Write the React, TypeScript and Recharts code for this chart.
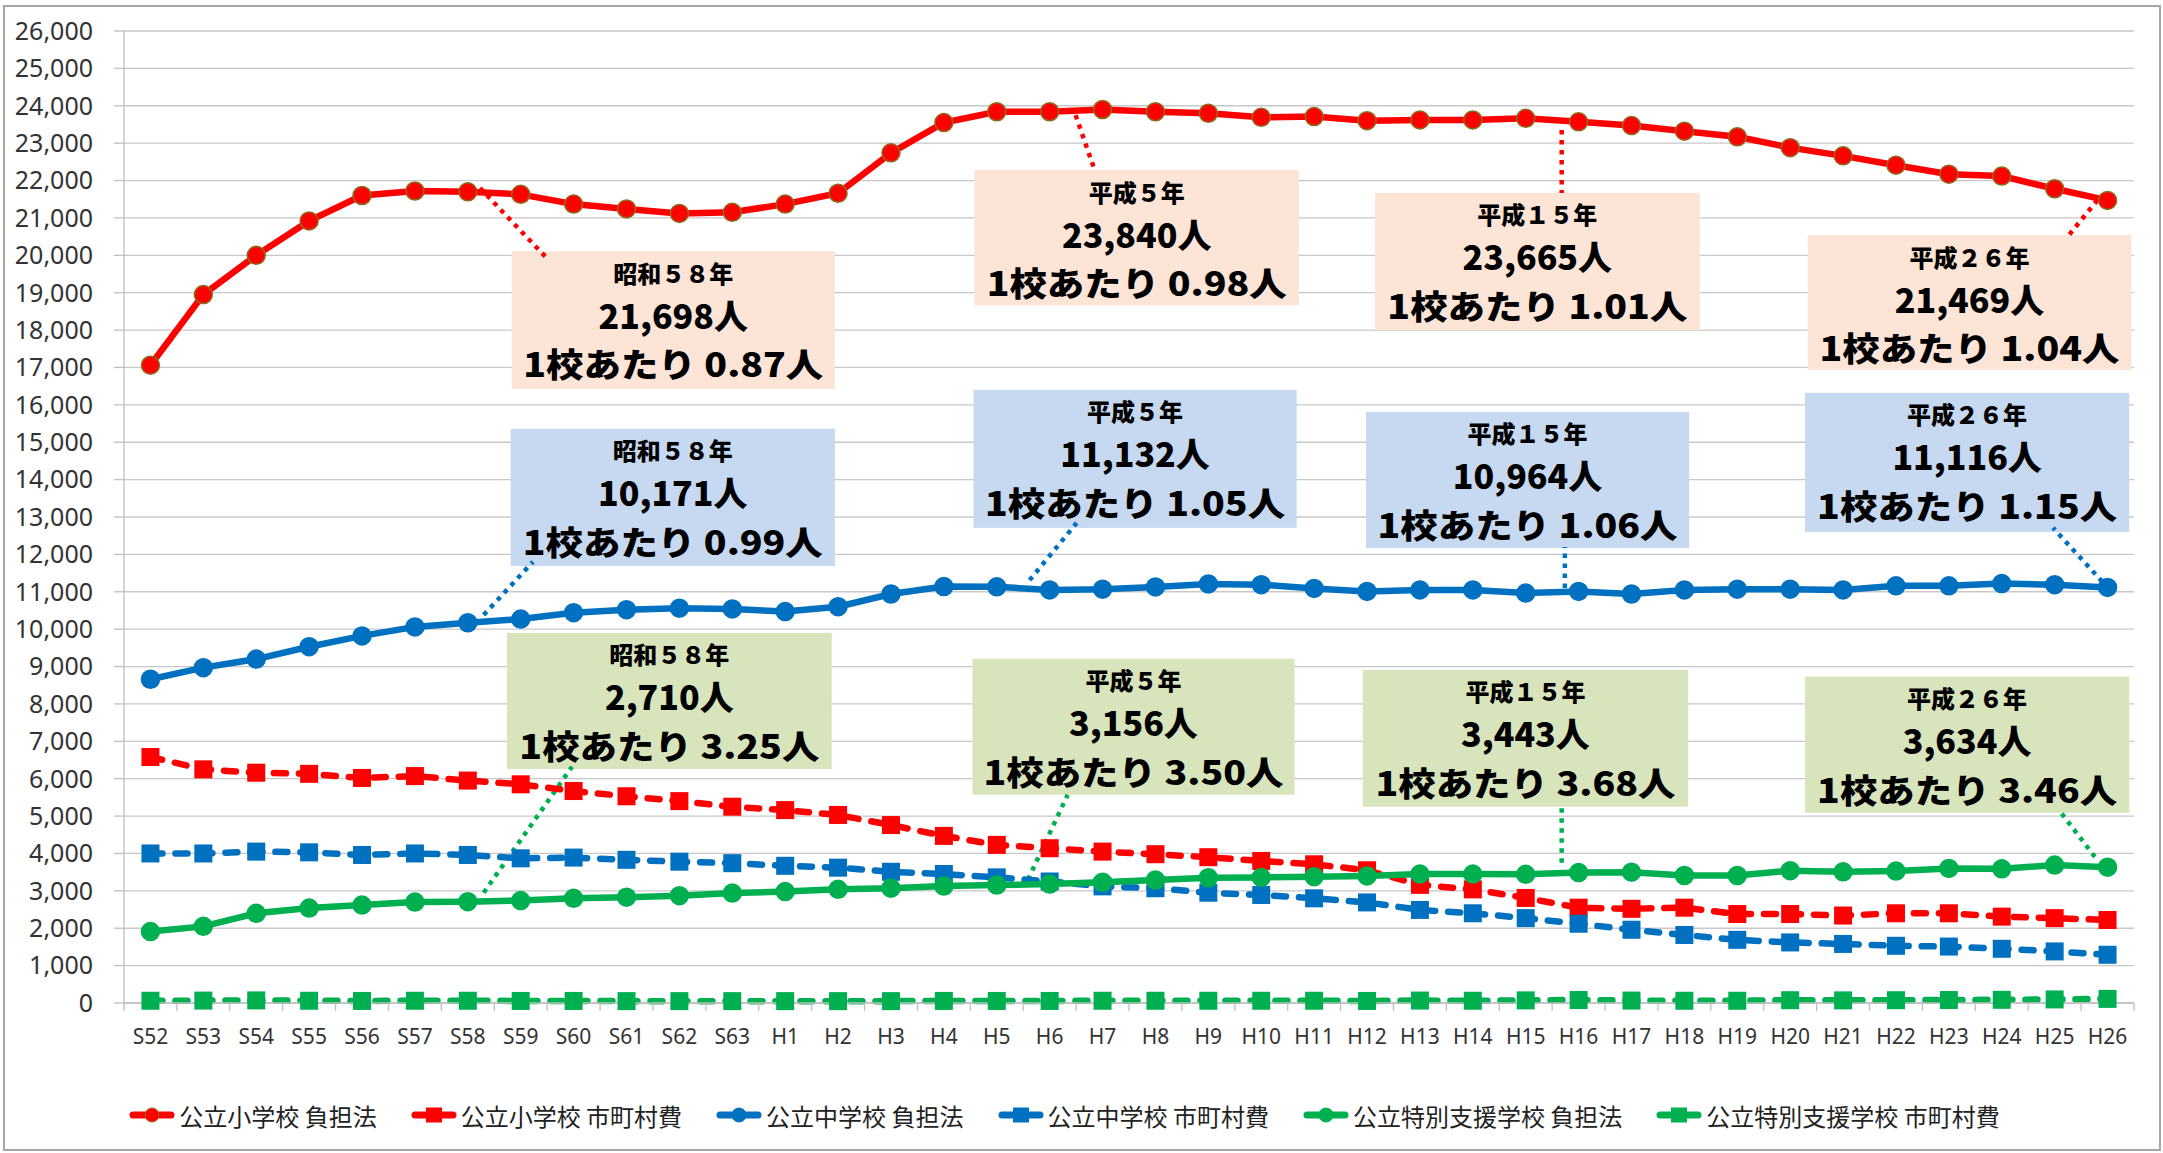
import { LineChart, Line, XAxis, YAxis, CartesianGrid, ReferenceArea, ReferenceLine } from 'recharts'

const categories = [
  'S52', 'S53', 'S54', 'S55', 'S56', 'S57', 'S58', 'S59', 'S60', 'S61', 'S62', 'S63',
  'H1', 'H2', 'H3', 'H4', 'H5', 'H6', 'H7', 'H8', 'H9', 'H10', 'H11', 'H12', 'H13',
  'H14', 'H15', 'H16', 'H17', 'H18', 'H19', 'H20', 'H21', 'H22', 'H23', 'H24', 'H25', 'H26',
]

// 公立小学校 負担法
const elemFutan = [
  17060, 18950, 20000, 20920, 21600, 21720, 21698, 21630, 21370, 21240, 21120, 21150,
  21370, 21660, 22740, 23550, 23840, 23840, 23900, 23840, 23800, 23690, 23710, 23600, 23620,
  23620, 23665, 23570, 23470, 23320, 23170, 22880, 22660, 22410, 22170, 22120, 21780, 21469,
]
// 公立小学校 市町村費
const elemCity = [
  6580, 6250, 6160, 6130, 6020, 6070, 5950, 5850, 5670, 5530, 5400, 5250,
  5160, 5030, 4760, 4470, 4230, 4140, 4050, 3980, 3900, 3800, 3710, 3550, 3160,
  3040, 2810, 2550, 2520, 2550, 2380, 2380, 2340, 2400, 2400, 2310, 2270, 2220,
]
// 公立中学校 負担法
const midFutan = [
  8660, 8970, 9200, 9530, 9820, 10060, 10171, 10270, 10440, 10520, 10560, 10540,
  10470, 10600, 10940, 11140, 11132, 11050, 11070, 11130, 11210, 11190, 11090, 11010, 11050,
  11050, 10964, 11010, 10940, 11050, 11070, 11070, 11050, 11160, 11160, 11220, 11190, 11116,
]
// 公立中学校 市町村費
const midCity = [
  4000, 4000, 4050, 4030, 3960, 4000, 3960, 3870, 3890, 3830, 3780, 3740,
  3670, 3620, 3510, 3450, 3360, 3250, 3120, 3070, 2950, 2890, 2800, 2690, 2490,
  2400, 2270, 2120, 1960, 1820, 1690, 1620, 1580, 1530, 1510, 1450, 1380, 1290,
]
// 公立特別支援学校 負担法
const specFutan = [
  1910, 2050, 2400, 2540, 2620, 2700, 2710, 2740, 2800, 2830, 2870, 2940,
  2980, 3040, 3070, 3130, 3156, 3180, 3230, 3290, 3350, 3360, 3380, 3400, 3450,
  3450, 3443, 3490, 3500, 3410, 3410, 3540, 3510, 3530, 3600, 3590, 3690, 3634,
]
// 公立特別支援学校 市町村費
const specCity = [
  60, 65, 70, 60, 55, 60, 60, 55, 55, 50, 50, 50,
  50, 50, 50, 55, 55, 55, 60, 60, 60, 60, 60, 55, 65,
  60, 70, 80, 65, 60, 60, 75, 70, 75, 80, 85, 95, 110,
]

const yTicks = [
  0, 1000, 2000, 3000, 4000, 5000, 6000, 7000, 8000, 9000, 10000, 11000, 12000, 13000,
  14000, 15000, 16000, 17000, 18000, 19000, 20000, 21000, 22000, 23000, 24000, 25000, 26000,
]

const RED = '#FF0000'
const BLUE = '#0070C0'
const GREEN = '#00B050'
const ORANGE_BOX = '#FCE4D6'
const BLUE_BOX = '#C6D9F0'
const GREEN_BOX = '#D8E4BC'

const series = [
  { key: 'elemFutan', name: '公立小学校 負担法', color: RED, dashed: false, values: elemFutan },
  { key: 'elemCity', name: '公立小学校 市町村費', color: RED, dashed: true, values: elemCity },
  { key: 'midFutan', name: '公立中学校 負担法', color: BLUE, dashed: false, values: midFutan },
  { key: 'midCity', name: '公立中学校 市町村費', color: BLUE, dashed: true, values: midCity },
  { key: 'specFutan', name: '公立特別支援学校 負担法', color: GREEN, dashed: false, values: specFutan },
  { key: 'specCity', name: '公立特別支援学校 市町村費', color: GREEN, dashed: true, values: specCity },
]

const data = categories.map((cat, i) => {
  const row: Record<string, number | string> = { i, cat }
  series.forEach((s) => (row[s.key] = s.values[i]))
  return row
})

// callout boxes, in axis units (x = category index, y = value)
const callouts = [
  { fill: ORANGE_BOX, color: RED, x1: 6.83, x2: 12.94, y1: 16430, y2: 20110, year: '昭和５８年', count: '21,698人', per: '1校あたり 0.87人', from: [6.23, 21800], to: [7.53, 19870] },
  { fill: ORANGE_BOX, color: RED, x1: 15.58, x2: 21.71, y1: 18660, y2: 22280, year: '平成５年', count: '23,840人', per: '1校あたり 0.98人', from: [17.49, 23750], to: [17.85, 22280] },
  { fill: ORANGE_BOX, color: RED, x1: 23.15, x2: 29.29, y1: 18000, y2: 21670, year: '平成１５年', count: '23,665人', per: '1校あたり 1.01人', from: [26.68, 23350], to: [26.68, 21670] },
  { fill: ORANGE_BOX, color: RED, x1: 31.33, x2: 37.45, y1: 16930, y2: 20540, year: '平成２６年', count: '21,469人', per: '1校あたり 1.04人', from: [36.81, 21480], to: [36.27, 20540] },
  { fill: BLUE_BOX, color: BLUE, x1: 6.81, x2: 12.94, y1: 11690, y2: 15360, year: '昭和５８年', count: '10,171人', per: '1校あたり 0.99人', from: [6.3, 10380], to: [7.23, 11800] },
  { fill: BLUE_BOX, color: BLUE, x1: 15.56, x2: 21.67, y1: 12710, y2: 16400, year: '平成５年', count: '11,132人', per: '1校あたり 1.05人', from: [16.62, 11310], to: [17.51, 12840] },
  { fill: BLUE_BOX, color: BLUE, x1: 22.98, x2: 29.09, y1: 12170, y2: 15810, year: '平成１５年', count: '10,964人', per: '1校あたり 1.06人', from: [26.74, 11100], to: [26.74, 12200] },
  { fill: BLUE_BOX, color: BLUE, x1: 31.28, x2: 37.41, y1: 12600, y2: 16320, year: '平成２６年', count: '11,116人', per: '1校あたり 1.15人', from: [36.9, 11270], to: [35.97, 12710] },
  { fill: GREEN_BOX, color: GREEN, x1: 6.74, x2: 12.88, y1: 6260, y2: 9900, year: '昭和５８年', count: '2,710人', per: '1校あたり 3.25人', from: [6.3, 2950], to: [7.97, 6320] },
  { fill: GREEN_BOX, color: GREEN, x1: 15.54, x2: 21.63, y1: 5570, y2: 9210, year: '平成５年', count: '3,156人', per: '1校あたり 3.50人', from: [16.59, 3300], to: [17.34, 5570] },
  { fill: GREEN_BOX, color: GREEN, x1: 22.92, x2: 29.07, y1: 5250, y2: 8910, year: '平成１５年', count: '3,443人', per: '1校あたり 3.68人', from: [26.68, 3750], to: [26.68, 5250] },
  { fill: GREEN_BOX, color: GREEN, x1: 31.28, x2: 37.41, y1: 5090, y2: 8730, year: '平成２６年', count: '3,634人', per: '1校あたり 3.46人', from: [36.76, 3910], to: [36.12, 5090] },
]

const xTicks = [
  ...categories.map((_, i) => i),
  ...categories.map((_, i) => i - 0.5),
  categories.length - 0.5,
].sort((a, b) => a - b)

const boxFont = "'Noto Sans CJK JP', 'Noto Sans', sans-serif"

function CalloutShape(props: any) {
  const { x, y, width, height, c } = props
  const cx = x + width / 2
  return (
    <g>
      <rect x={x} y={y} width={width} height={height} fill={c.fill} />
      <text x={cx} y={y + 21} textAnchor="middle" dominantBaseline="central" fontFamily={boxFont} fontWeight={900} fontSize={24} fill="#000">
        {c.year}
      </text>
      <text x={cx} y={y + 63} textAnchor="middle" dominantBaseline="central" fontFamily={boxFont} fontWeight={900} fontSize={34} fill="#000">
        {c.count}
      </text>
      <text x={cx} y={y + 112} textAnchor="middle" dominantBaseline="central" fontFamily={boxFont} fontWeight={900} fontSize={33} fill="#000" textLength={300} lengthAdjust="spacingAndGlyphs">
        {c.per}
      </text>
    </g>
  )
}

function XTick(props: any) {
  const { x, y, payload } = props
  const v = payload.value
  if (Number.isInteger(v)) {
    return (
      <text x={x} y={y + 33} textAnchor="middle" dominantBaseline="central" fontSize={21} fill="#333" fontFamily="'Noto Sans', sans-serif">
        {categories[v]}
      </text>
    )
  }
  return <line x1={x} x2={x} y1={y} y2={y + 8} stroke="#bfbfbf" strokeWidth={1.3} />
}

function squareDot(color: string) {
  return (p: any) =>
    p.cx == null ? <g key={p.index} /> : <rect key={p.index} x={p.cx - 9} y={p.cy - 9} width={18} height={18} fill={color} />
}

function LegendIcon({ color, dashed }: { color: string; dashed: boolean }) {
  return (
    <svg width={46} height={20} style={{ display: 'block' }}>
      <line x1={4} x2={42} y1={10} y2={10} stroke={color} strokeWidth={7} strokeLinecap="round" />
      {dashed ? (
        <rect x={15} y={2.5} width={16} height={15} fill={color} />
      ) : (
        <circle cx={23} cy={10} r={7} fill={color} stroke={color === RED ? '#8c6d1f' : color} strokeWidth={1} />
      )}
    </svg>
  )
}

export default function App() {
  return (
    <div style={{ position: 'absolute', left: 0, top: 0, width: 2163, height: 1153, background: '#fff', fontFamily: "'Noto Sans', 'Noto Sans CJK JP', sans-serif" }}>
      <div style={{ position: 'absolute', left: 3, top: 5, width: 2154, height: 1142, border: '2px solid #a6a6a6' }} />
      <LineChart width={2163} height={1153} data={data} margin={{ top: 31, right: 29, bottom: 90, left: 14 }}>
        <CartesianGrid vertical={false} stroke="#c8c8c8" strokeWidth={1.3} />
        <XAxis
          dataKey="i"
          type="number"
          domain={[-0.5, categories.length - 0.5]}
          ticks={xTicks}
          interval={0}
          height={60}
          tickLine={false}
          tickSize={0}
          tickMargin={0}
          tick={<XTick />}
          axisLine={{ stroke: '#bfbfbf', strokeWidth: 1.3 }}
        />
        <YAxis
          domain={[0, 26000]}
          ticks={yTicks}
          interval={0}
          width={110}
          tickSize={10}
          tickMargin={21}
          tickLine={{ stroke: '#bfbfbf', strokeWidth: 1.3 }}
          axisLine={{ stroke: '#bfbfbf', strokeWidth: 1.3 }}
          tick={{ fill: '#333', fontSize: 25, fontFamily: "'Noto Sans', sans-serif" }}
          tickFormatter={(v: number) => v.toLocaleString('en-US')}
        />
        {callouts.map((c, k) => (
          <ReferenceArea key={'a' + k} x1={c.x1} x2={c.x2} y1={c.y1} y2={c.y2} ifOverflow="visible" shape={(p: any) => <CalloutShape {...p} c={c} />} />
        ))}
        {callouts.map((c, k) => (
          <ReferenceLine
            key={'l' + k}
            ifOverflow="visible"
            segment={[{ x: c.from[0], y: c.from[1] }, { x: c.to[0], y: c.to[1] }]}
            stroke={c.color}
            strokeWidth={4.5}
            strokeDasharray="4.5 5.5"
          />
        ))}
        {series.map((s) => (
          <Line
            key={s.key}
            type="linear"
            dataKey={s.key}
            name={s.name}
            stroke={s.color}
            strokeWidth={6.5}
            strokeDasharray={s.dashed ? '12 13' : undefined}
            strokeLinecap="round"
            dot={s.dashed ? squareDot(s.color) : { r: 9, fill: s.color, stroke: s.color === RED ? '#8c6d1f' : s.color, strokeWidth: 1.5 }}
            activeDot={false}
            isAnimationActive={false}
          />
        ))}
      </LineChart>
      <div style={{ position: 'absolute', left: 0, top: 1100, width: 2163, display: 'flex', justifyContent: 'center', alignItems: 'center', height: 30 }}>
        {series.map((s) => (
          <div key={s.key} style={{ display: 'flex', alignItems: 'center', marginRight: 34 }}>
            <LegendIcon color={s.color} dashed={s.dashed} />
            <span style={{ marginLeft: 4, fontSize: 24, color: '#222', fontFamily: "'Noto Sans CJK JP', sans-serif", whiteSpace: 'pre' }}>{s.name}</span>
          </div>
        ))}
      </div>
    </div>
  )
}
